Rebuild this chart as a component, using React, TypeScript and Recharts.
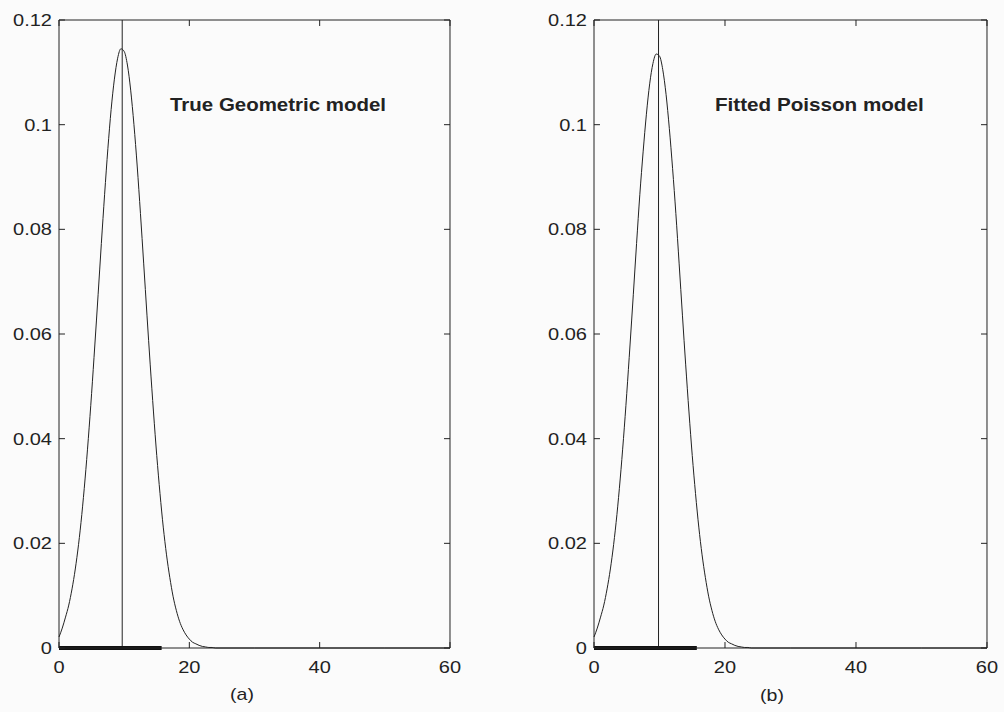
import { LineChart, Line, XAxis, YAxis, ReferenceLine } from "recharts";

const xs = [
  0, 0.5, 1, 1.5, 2, 2.5, 3, 3.5, 4, 4.5, 5, 5.5, 6, 6.5, 7, 7.5, 8, 8.5, 9,
  9.5, 10, 10.5, 11, 11.5, 12, 12.5, 13, 13.5, 14, 14.5, 15, 15.5, 16, 16.5,
  17, 17.5, 18, 18.5, 19, 19.5, 20, 20.5, 21, 21.5, 22, 22.5, 23, 23.5, 24,
  30, 40, 50, 60,
];

const geometricPmf = [
  0.0021, 0.0038, 0.0059, 0.0082, 0.0113, 0.0151, 0.0198, 0.0255, 0.0323,
  0.04, 0.0486, 0.0579, 0.0675, 0.0773, 0.0867, 0.0954, 0.1029, 0.1087,
  0.1127, 0.1145, 0.114, 0.1114, 0.1066, 0.1, 0.0921, 0.083, 0.0734, 0.0636,
  0.0541, 0.0451, 0.0368, 0.0295, 0.0231, 0.0178, 0.0135, 0.0099, 0.0072,
  0.0051, 0.0036, 0.0025, 0.0017, 0.0011, 0.0008, 0.0005, 0.0003, 0.0002,
  0.0001, 0.0001, 0, 0, 0, 0, 0,
];

const poissonPmf = [
  0.0021, 0.0038, 0.0059, 0.0082, 0.0113, 0.0151, 0.0198, 0.0255, 0.0323,
  0.04, 0.0486, 0.0579, 0.0675, 0.0773, 0.0867, 0.0948, 0.102, 0.1078,
  0.1117, 0.1135, 0.1131, 0.1105, 0.1058, 0.0993, 0.0916, 0.083, 0.0734,
  0.0636, 0.0541, 0.0451, 0.0368, 0.0295, 0.0231, 0.0178, 0.0135, 0.0099,
  0.0072, 0.0051, 0.0036, 0.0025, 0.0017, 0.0011, 0.0008, 0.0005, 0.0003,
  0.0002, 0.0001, 0.0001, 0, 0, 0, 0, 0,
];

const xTicks = [0, 20, 40, 60];
const yTicks = [0, 0.02, 0.04, 0.06, 0.08, 0.1, 0.12];

// vertical marker and the thick interval on the x axis
const markerA = 9.7;
const markerB = 9.85;
const intervalA = [0, 15.75];
const intervalB = [0, 15.7];

const INK = "#222";
const FONT = "'Liberation Sans', Arial, sans-serif";
const T = 0.01; // near-zero tick size so custom ticks get the axis position

const fmt = (v: number) => String(Number(v.toFixed(2)));

const BottomTick = (props: any) => {
  const { x, y, payload } = props;
  return (
    <g>
      <line x1={x} y1={y} x2={x} y2={y - 6} stroke={INK} />
      <text
        transform={`translate(${x},${y + 25}) scale(1.25,1)`}
        textAnchor="middle"
        fontSize={16}
        fontFamily={FONT}
        fill={INK}
      >
        {fmt(payload.value)}
      </text>
    </g>
  );
};

const TopTick = (props: any) => {
  const { x, y } = props;
  return <line x1={x} y1={y} x2={x} y2={y + 6} stroke={INK} />;
};

const LeftTick = (props: any) => {
  const { x, y, payload } = props;
  return (
    <g>
      <line x1={x} y1={y} x2={x + 6} y2={y} stroke={INK} />
      <text
        transform={`translate(${x - 7},${y + 6}) scale(1.25,1)`}
        textAnchor="end"
        fontSize={16}
        fontFamily={FONT}
        fill={INK}
      >
        {fmt(payload.value)}
      </text>
    </g>
  );
};

const RightTick = (props: any) => {
  const { x, y } = props;
  return <line x1={x} y1={y} x2={x - 6} y2={y} stroke={INK} />;
};

type PanelProps = {
  values: number[];
  marker: number;
  interval: number[];
  left: number;
  yAxisWidth: number;
  rightMargin: number;
};

const Panel = ({ values, marker, interval, left, yAxisWidth, rightMargin }: PanelProps) => {
  const data = xs.map((x, i) => ({ x, p: values[i] }));
  return (
    <div style={{ position: "absolute", left, top: 0 }}>
      <LineChart
        width={502}
        height={712}
        data={data}
        margin={{ top: 20, right: rightMargin, bottom: 34, left: 0 }}
      >
        <XAxis
          dataKey="x"
          type="number"
          domain={[0, 60]}
          ticks={xTicks}
          height={30}
          tickSize={T}
          tickMargin={T}
          tickLine={false}
          tick={<BottomTick />}
          axisLine={{ stroke: INK }}
        />
        <XAxis
          xAxisId="top"
          dataKey="x"
          orientation="top"
          type="number"
          domain={[0, 60]}
          ticks={xTicks}
          height={0.01}
          tickSize={T}
          tickMargin={T}
          tickLine={false}
          tick={<TopTick />}
          axisLine={{ stroke: INK }}
        />
        <YAxis
          type="number"
          domain={[0, 0.12]}
          ticks={yTicks}
          width={yAxisWidth}
          tickSize={T}
          tickMargin={T}
          tickLine={false}
          tick={<LeftTick />}
          axisLine={{ stroke: INK }}
        />
        <YAxis
          yAxisId="right"
          orientation="right"
          type="number"
          domain={[0, 0.12]}
          ticks={yTicks}
          width={0.01}
          tickSize={T}
          tickMargin={T}
          tickLine={false}
          tick={<RightTick />}
          axisLine={{ stroke: INK }}
        />
        <ReferenceLine x={marker} stroke={INK} strokeWidth={1} />
        <ReferenceLine
          segment={[
            { x: interval[0], y: 0 },
            { x: interval[1], y: 0 },
          ]}
          stroke="#111"
          strokeWidth={4}
          ifOverflow="visible"
        />
        <Line
          dataKey="p"
          type="monotone"
          stroke={INK}
          strokeWidth={1}
          dot={false}
          isAnimationActive={false}
        />
        {/* invisible copy so the mirrored frame axes get drawn */}
        <Line
          xAxisId="top"
          yAxisId="right"
          dataKey="p"
          stroke="none"
          dot={false}
          activeDot={false}
          legendType="none"
          isAnimationActive={false}
        />
      </LineChart>
    </div>
  );
};

const App = () => {
  return (
    <div
      style={{
        position: "absolute",
        left: 0,
        top: 0,
        width: 1004,
        height: 712,
        background: "#fbfbfb",
        overflow: "hidden",
      }}
    >
      <Panel values={geometricPmf} marker={markerA} interval={intervalA} left={0} yAxisWidth={59} rightMargin={52} />
      <Panel values={poissonPmf} marker={markerB} interval={intervalB} left={502} yAxisWidth={92} rightMargin={17} />
      <svg
        width={1004}
        height={712}
        style={{ position: "absolute", left: 0, top: 0, pointerEvents: "none" }}
      >
        <g fontFamily={FONT} fill={INK}>
          <text transform="translate(170,111) scale(1.17,1)" fontSize={17.5} fontWeight="bold">
            True Geometric model
          </text>
          <text transform="translate(715,111) scale(1.18,1)" fontSize={17.5} fontWeight="bold">
            Fitted Poisson model
          </text>
          <text transform="translate(242,700) scale(1.22,1)" fontSize={16} textAnchor="middle">
            (a)
          </text>
          <text transform="translate(772,701) scale(1.22,1)" fontSize={16} textAnchor="middle">
            (b)
          </text>
        </g>
      </svg>
    </div>
  );
};

export default App;
